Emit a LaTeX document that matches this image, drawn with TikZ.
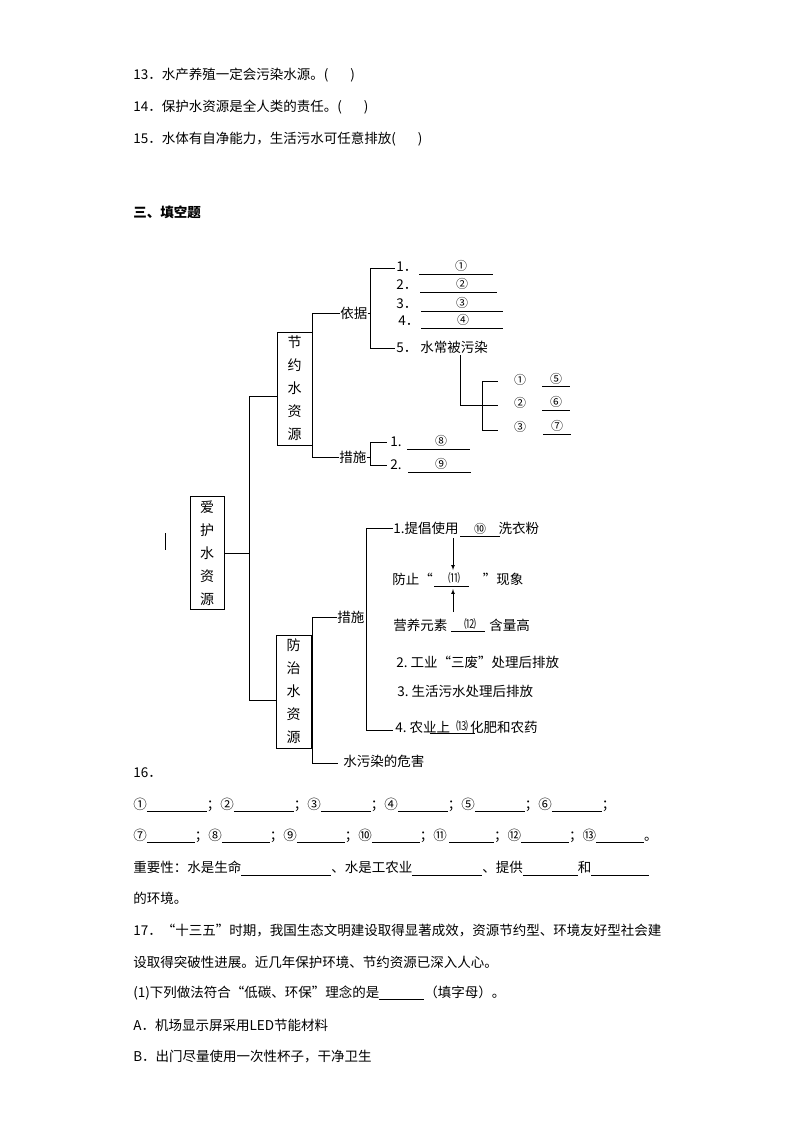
\documentclass[tikz,border=0pt]{standalone}
\usepackage{fontspec}
\setmainfont{Noto Sans CJK SC}
\begin{document}
\begin{tikzpicture}[x=1pt,y=-1pt,line width=0.7pt,
  txt/.style={anchor=west,inner sep=0pt,font=\fontsize{13.5}{16}\selectfont},
  sm/.style={inner sep=0pt,font=\fontsize{12}{14}\selectfont},
  vbox/.style={draw,inner sep=0pt,align=center,font=\fontsize{14}{23}\selectfont},
  ul/.style={line width=0.6pt}]
\newcommand{\bl}[1]{\rule[-2.5pt]{#1pt}{0.5pt}}
\useasboundingbox (0,0) rectangle (794,1123);
% top text
\node[txt] (q13) at (133,75) {13．水产养殖一定会污染水源。(\hspace{22pt})};
\node[txt] (q14) at (133,107) {14．保护水资源是全人类的责任。(\hspace{22pt})};
\node[txt] (q15) at (133,139) {15．水体有自净能力，生活污水可任意排放(\hspace{22pt})};
\node[txt,font=\bfseries\fontsize{13.5}{16}\selectfont] (h3) at (133,212) {三、填空题};
% boxes
\node[vbox,minimum width=34pt,minimum height=113pt] (root) at (207,553) {爱\\护\\水\\资\\源};
\node[vbox,minimum width=35pt,minimum height=113pt] (jy) at (294.5,388.5) {节\\约\\水\\资\\源};
\node[vbox,minimum width=35pt,minimum height=113pt] (fz) at (293.5,691.5) {防\\治\\水\\资\\源};
\draw (165,533) -- (165,550);
% trunk
\draw (root.east) -- (249,553);
\draw (249,396) -- (249,700);
\draw (249,396) -- (jy.west |- 0,396);
\draw (249,700) -- (fz.west |- 0,700);
% 节约 branches
\node[txt] (yj) at (340,313) {依据};
\node[txt] (cs1) at (339,457) {措施};
\draw (312,313) -- (312,457);
\draw (312,313) -- (yj.west);
\draw (312,457) -- (cs1.west);
\draw (370,268) -- (370,348);
\draw (yj.east) -- (370,313);
\draw (370,268) -- (395,268);
\draw (370,348) -- (395,348);
\node[txt] (a1) at (396,267) {1．};
\node[txt] (a2) at (396,285) {2．};
\node[txt] (a3) at (396,304) {3．};
\node[txt] (a4) at (398,321) {4．};
\node[txt] (a5) at (396,347) {5．\ 水常被污染};
\draw[ul] (419,274) -- (493,274); \node[sm] (c1) at (461,266) {①};
\draw[ul] (420,292) -- (497,292); \node[sm] (c2) at (462,284) {②};
\draw[ul] (421,311) -- (503,311); \node[sm] (c3) at (462,303) {③};
\draw[ul] (421,328) -- (503,328); \node[sm] (c4) at (463,320) {④};
\draw (460,355) -- (460,405) -- (482,405);
\draw (482,381) -- (482,430);
\draw (482,381) -- (498,381);
\draw (482,405) -- (498,405);
\draw (482,430) -- (498,430);
\node[sm] (b1) at (520,380) {①}; \draw[ul] (542,386) -- (570,386); \node[sm] (c5) at (556,379) {⑤};
\node[sm] (b2) at (520,403) {②}; \draw[ul] (542,410) -- (570,410); \node[sm] (c6) at (556,402) {⑥};
\node[sm] (b3) at (520,427) {③}; \draw[ul] (543,434) -- (571,434); \node[sm] (c7) at (557,426) {⑦};
\draw (370,442) -- (370,465);
\draw (cs1.east) -- (370,457);
\draw (370,442) -- (387,442);
\draw (370,465) -- (387,465);
\node[txt] (m1) at (390,442) {1.};
\node[txt] (m2) at (390,465) {2.};
\draw[ul] (407,449) -- (470,449); \node[sm] (c8) at (441,441) {⑧};
\draw[ul] (408,472) -- (471,472); \node[sm] (c9) at (441,464) {⑨};
% 防治 branches
\node[txt] (cs2) at (337,617) {措施};
\node[txt] (wh) at (343,761) {水污染的危害};
\draw (312,617) -- (312,763);
\draw (312,617) -- (cs2.west);
\draw (312,763) -- (338,763);
\draw (366,528) -- (366,730);
\draw (366,528) -- (393,528);
\draw (366,730) -- (393,730);
\node[txt] (p1) at (393,528) {1.提倡使用\hspace{40pt}洗衣粉};
\draw[ul] (460,536) -- (500,536); \node[sm] (c10) at (480,529) {⑩};
\node[txt] (p11) at (392,579) {防止“\hspace{50pt}”现象};
\draw[ul] (434,586) -- (469,586); \node[sm] (c11) at (454,578) {⑾};
\node[txt] (p12) at (393,625) {营养元素\hspace{42pt}含量高};
\draw[ul] (451,631) -- (485,631); \node[sm] (c12) at (470,624) {⑿};
\draw[-latex] (453,538) -- (453,570);
\draw[-latex] (453,612) -- (453,589);
\node[txt] (p2) at (396,662) {2.\ 工业“三废”处理后排放};
\node[txt] (p3) at (397,691) {3.\ 生活污水处理后排放};
\node[txt] (p4) at (395,727) {4.\ 农业上\hspace{20pt}化肥和农药};
\draw[ul] (430,733) -- (475,733); \node[sm] (c13) at (462,726) {⒀};
% bottom text
\node[txt] (q16) at (133,773) {16．};
\node[txt] (l1) at (133,805) {①\bl{60}；②\bl{60}；③\bl{50}；④\bl{50}；⑤\bl{50}；⑥\bl{50}；};
\node[txt] (l2) at (133,836) {⑦\bl{48}；⑧\bl{48}；⑨\bl{48}；⑩\bl{48}；⑪\,\bl{45}；⑫\bl{48}；⑬\bl{48}。};
\node[txt] (l3) at (133,868) {重要性：水是生命\bl{90}、水是工农业\bl{70}、提供\bl{55}和\bl{58}};
\node[txt] (l4) at (133,898) {的环境。};
\node[txt] (q17) at (133,930) {17．“十三五”时期，我国生态文明建设取得显著成效，资源节约型、环境友好型社会建};
\node[txt] (l5) at (133,962) {设取得突破性进展。近几年保护环境、节约资源已深入人心。};
\node[txt] (l6) at (133,993) {(1)下列做法符合“低碳、环保”理念的是\bl{45}（填字母）。};
\node[txt] (l7) at (133,1025) {A．机场显示屏采用LED节能材料};
\node[txt] (l8) at (133,1057) {B．出门尽量使用一次性杯子，干净卫生};
\end{tikzpicture}
\end{document}
